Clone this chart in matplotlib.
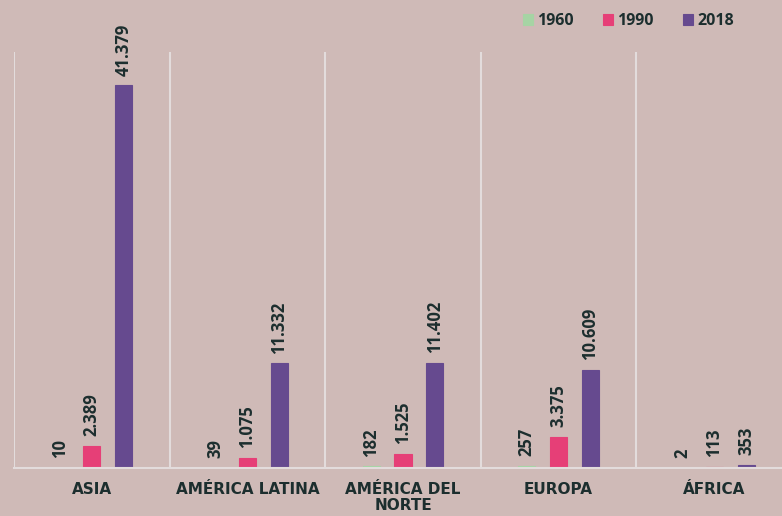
import numpy as np
import matplotlib.pyplot as plt

regions = ['ASIA', 'AMÉRICA LATINA', 'AMÉRICA DEL\nNORTE', 'EUROPA', 'ÁFRICA']
years = ['1960', '1990', '2018']
v1960 = [10, 39, 182, 257, 2]
v1990 = [2389, 1075, 1525, 3375, 113]
v2018 = [41379, 11332, 11402, 10609, 353]
colors = ['#a6d4a4', '#e63f77', '#664a8f']

bg = '#cfbab7'
txt = '#1c2e2e'

fig = plt.figure(figsize=(7.82, 5.16), dpi=100, facecolor=bg)
ax = fig.add_axes([14/782, 48/516, 778/782, 416/516])
ax.set_facecolor(bg)

x = np.arange(len(regions))
w = 0.11
off = 0.205
for i, (vals, c, yr) in enumerate(zip([v1960, v1990, v2018], colors, years)):
    pos = x + (i - 1) * off
    ax.bar(pos, vals, width=w, color=c, edgecolor=c, linewidth=0.8, label=yr)
    for p, v in zip(pos, vals):
        lab = f'{v:,}'.replace(',', '.')
        ax.annotate(lab, (p, v), xytext=(0, 7), textcoords='offset points',
                    rotation=90, ha='center', va='bottom', fontsize=12,
                    fontweight='bold', color=txt, family='Open Sans')

ax.set_xlim(-0.5, 4.5)
ax.set_ylim(0, 45000)
for b in np.arange(-0.5, 5, 1):
    ax.axvline(b, color='#e3dcdc', lw=1.5)
for s in ['top', 'right', 'left']:
    ax.spines[s].set_visible(False)
ax.spines['bottom'].set_color('#e3dcdc')
ax.spines['bottom'].set_linewidth(1.5)
ax.set_yticks([])
ax.set_xticks(x)
ax.set_xticklabels(regions, fontsize=11, fontweight='bold', color=txt,
                   family='DejaVu Sans', linespacing=1.1)
ax.tick_params(axis='x', length=0, pad=10)

leg = ax.legend(loc='center right', bbox_to_anchor=(742/782, 1 - 21/516),
                bbox_transform=fig.transFigure, ncol=3, borderpad=0,
                frameon=False, handlelength=0.62, handleheight=0.62,
                handletextpad=0.3, columnspacing=1.8,
                prop={'family': 'Open Sans', 'weight': 'bold', 'size': 11.5})
for t in leg.get_texts():
    t.set_color(txt)

fig.savefig('out.png', dpi=100, facecolor=bg)
